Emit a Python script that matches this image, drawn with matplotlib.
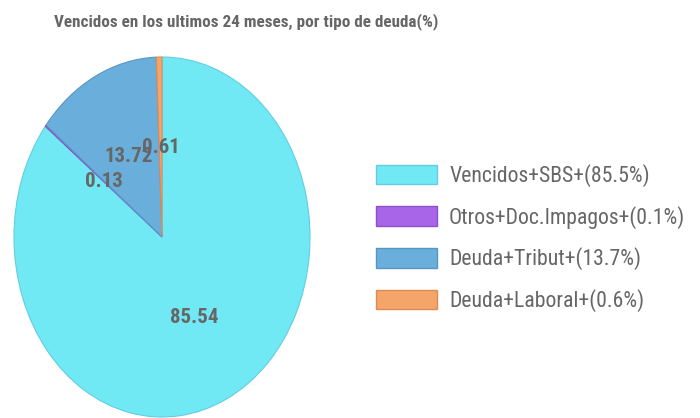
import matplotlib
matplotlib.use("Agg")
import matplotlib.pyplot as plt
from matplotlib.patches import Patch
import numpy as np

# datos del grafico
categorias = ["Vencidos+SBS", "Otros+Doc.Impagos", "Deuda+Tribut", "Deuda+Laboral"]
valores = [85.54, 0.13, 13.72, 0.61]
colores = ["#70E9F5", "#A865E8", "#6AAEDC", "#F5A46A"]
bordes = ["#62CDE0", "#8E4FCB", "#5A95C2", "#DB8C55"]

FUENTE = ["Roboto Condensed", "DejaVu Sans"]
GRIS = "#666666"

fig = plt.figure(figsize=(7.0, 4.18), dpi=100)
ax = fig.add_axes([14 / 700, 1 / 418, 296 / 700, 360 / 418])

wedges, _ = ax.pie(valores, colors=colores, startangle=90, counterclock=False,
                   radius=1.0, wedgeprops={"linewidth": 0.8})
for w, b in zip(wedges, bordes):
    w.set_edgecolor(b)

# etiquetas con el valor de cada porcion (a media distancia del centro)
ang = 90.0
for v in valores:
    mid = ang - v * 3.6 / 2
    ang -= v * 3.6
    x = 0.5 * np.cos(np.radians(mid))
    y = 0.5 * np.sin(np.radians(mid))
    ax.text(x, y, f"{v:.2f}", ha="center", va="center", fontsize=15,
            fontweight="bold", color=GRIS, family=FUENTE)

ax.set_aspect("auto")
ax.set_xlim(-1, 1)
ax.set_ylim(-1, 1)
ax.axis("off")

pct = [f"{c}+({v:.1f}%)" for c, v in zip(categorias, valores)]
handles = [Patch(facecolor=c, edgecolor=b, linewidth=1) for c, b in zip(colores, bordes)]
fig.legend(handles, pct, loc="upper left", bbox_to_anchor=(376 / 700, 1 - 164 / 418),
           frameon=False, prop={"family": FUENTE, "size": 15.7}, labelcolor=GRIS,
           handlelength=2.8, handleheight=1.0, labelspacing=0.86, handletextpad=0.55,
           borderpad=0, borderaxespad=0)

fig.text(246 / 700, 1 - 22 / 418, "Vencidos en los ultimos 24 meses, por tipo de deuda(%)",
         ha="center", va="center", fontsize=12.3, fontweight="bold", color=GRIS, family=FUENTE)

fig.savefig("out.png", dpi=100)
